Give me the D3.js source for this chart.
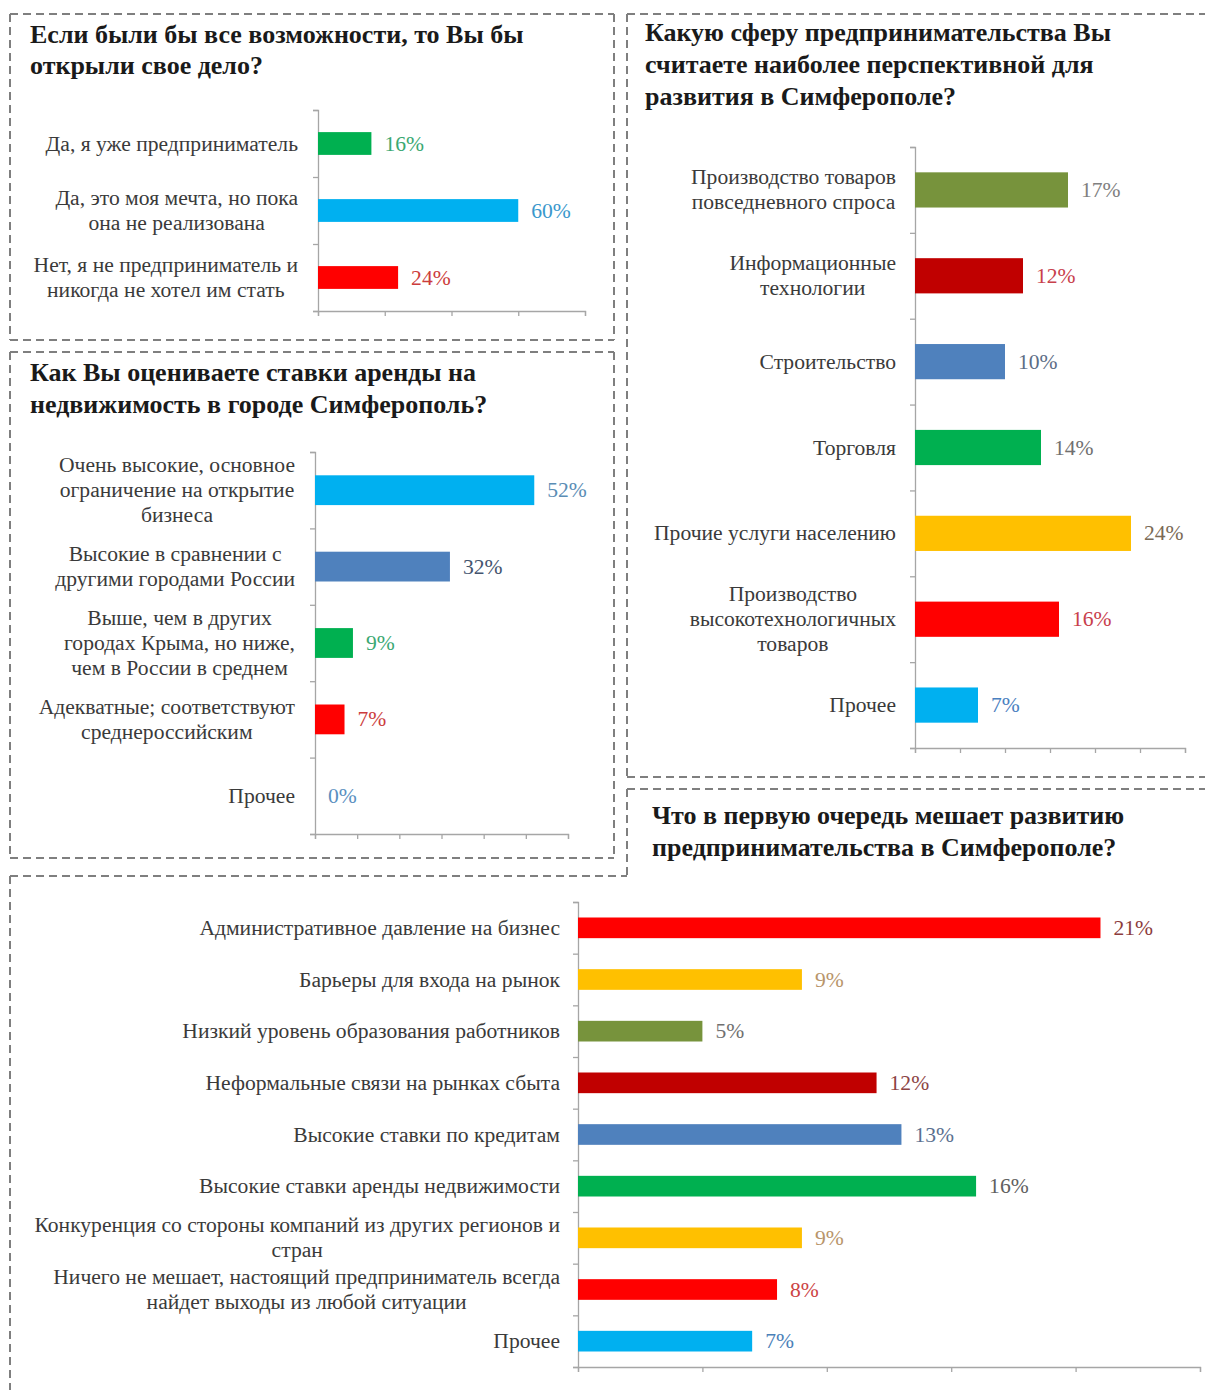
<!DOCTYPE html>
<html><head><meta charset="utf-8">
<script src="https://cdn.jsdelivr.net/npm/d3@7/dist/d3.min.js"></script>
<style>body{margin:0;background:#fff} svg{display:block}</style>
</head><body>
<svg id="c" width="1205" height="1390"></svg>
<script>
// ---------- DATA ----------
const q1Title = ["Если были бы все возможности, то Вы бы", "открыли свое дело?"];
const q1Categories = ["Да, я уже предприниматель", "Да, это моя мечта, но пока\nона не реализована", "Нет, я не предприниматель и\nникогда не хотел им стать"];
const q1Values = [16, 60, 24];
const q1Ticks = [0, 20, 40, 60, 80];

const q2Title = ["Как Вы оцениваете ставки аренды на", "недвижимость в городе Симферополь?"];
const q2Categories = ["Очень высокие, основное\nограничение на открытие\nбизнеса", "Высокие в сравнении с\nдругими городами России", "Выше, чем в других\nгородах Крыма, но ниже,\nчем в России в среднем", "Адекватные; соответствуют\nсреднероссийским", "Прочее"];
const q2Values = [52, 32, 9, 7, 0];
const q2Ticks = [0, 10, 20, 30, 40, 50, 60];

const q3Title = ["Какую сферу предпринимательства Вы", "считаете наиболее перспективной для", "развития в Симферополе?"];
const q3Categories = ["Производство товаров\nповседневного спроса", "Информационные\nтехнологии", "Строительство", "Торговля", "Прочие услуги населению", "Производство\nвысокотехнологичных\nтоваров", "Прочее"];
const q3Values = [17, 12, 10, 14, 24, 16, 7];
const q3Ticks = [0, 5, 10, 15, 20, 25, 30];

const q4Title = ["Что в первую очередь мешает развитию", "предпринимательства в Симферополе?"];
const q4Categories = ["Административное давление на бизнес", "Барьеры для входа на рынок", "Низкий уровень образования работников", "Неформальные связи на рынках сбыта", "Высокие ставки по кредитам", "Высокие ставки аренды недвижимости", "Конкуренция со стороны компаний из других регионов и\nстран", "Ничего не мешает, настоящий предприниматель всегда\nнайдет выходы из любой ситуации", "Прочее"];
const q4Values = [21, 9, 5, 12, 13, 16, 9, 8, 7];
const q4Ticks = [0, 5, 10, 15, 20, 25];

// ---------- STYLES ----------
const q1BarColors = ["#00B050", "#00B0F0", "#FF0000"];
const q1LabelColors = ["#3aa872", "#3a98cc", "#cc3c3c"];
const q2BarColors = ["#00B0F0", "#4F81BD", "#00B050", "#FF0000", "#00B0F0"];
const q2LabelColors = ["#5a8db5", "#44546e", "#3aa872", "#cc3c3c", "#5a8fbf"];
const q3BarColors = ["#77933C", "#C00000", "#4F81BD", "#00B050", "#FFC000", "#FF0000", "#00B0F0"];
const q3LabelColors = ["#808080", "#c8404c", "#5c6d86", "#707070", "#7a6a55", "#c8404c", "#4a80c0"];
const q4BarColors = ["#FF0000", "#FFC000", "#77933C", "#C00000", "#4F81BD", "#00B050", "#FFC000", "#FF0000", "#00B0F0"];
const q4LabelColors = ["#8c3c3c", "#b8956a", "#707070", "#8c4444", "#5a7090", "#606060", "#b8956a", "#cc4444", "#4a80b8"];

const FONT = "'Liberation Serif','Times New Roman',serif";
const LABEL_FS = 21.6;
const TITLE_FS = 26;
const svg = d3.select("#c");
svg.append("rect").attr("width", 1205).attr("height", 1390).attr("fill", "#fff");

// ---------- BORDERS ----------
const borderSegs = [
  [10, 14, 614, 14], [10, 14, 10, 340], [614, 14, 614, 340], [10, 340, 614, 340],
  [10, 352, 614, 352], [10, 352, 10, 858], [614, 352, 614, 858], [10, 858, 614, 858],
  [627, 14, 1205, 14], [627, 14, 627, 777], [627, 777, 1205, 777],
  [627, 789, 1205, 789], [627, 789, 627, 876], [10, 876, 627, 876], [10, 876, 10, 1390]
];
svg.append("g").selectAll("line").data(borderSegs).join("line")
  .attr("x1", d => d[0]).attr("y1", d => d[1]).attr("x2", d => d[2]).attr("y2", d => d[3])
  .attr("stroke", "#7f7f7f").attr("stroke-width", 2).attr("stroke-dasharray", "8,5");

// ---------- TITLES ----------
function title(lines, x, y0, lh) {
  svg.append("g").selectAll("text").data(lines).join("text")
    .attr("x", x).attr("y", (d, i) => y0 + i * lh)
    .attr("font-family", FONT).attr("font-weight", "bold").attr("font-size", TITLE_FS)
    .attr("fill", "#1a1a1a").text(d => d);
}
title(q1Title, 30, 43, 31);
title(q2Title, 30, 381, 32);
title(q3Title, 645, 41, 32);
title(q4Title, 652, 824, 32);

// ---------- PANELS ----------
function panel(o) {
  const g = svg.append("g");
  const n = o.cats.length;
  const x = d3.scaleLinear().domain([0, o.maxV]).range([o.x0, o.x1]);
  const p = 1 - o.barFrac;
  const y = d3.scaleBand().domain(d3.range(n)).range([o.y0, o.y1]).paddingInner(p).paddingOuter(p / 2);
  const yb = d3.scaleLinear().domain([0, n]).range([o.y0, o.y1]);

  const ax = g.append("g").attr("transform", `translate(0,${o.y1})`)
    .call(d3.axisBottom(x).tickValues(o.ticks).tickSize(5).tickSizeOuter(5).tickFormat(""));
  const ay = g.append("g").attr("transform", `translate(${o.x0},0)`)
    .call(d3.axisLeft(yb).tickValues(d3.range(n + 1)).tickSize(5).tickSizeOuter(5).tickFormat(""));
  [ax, ay].forEach(a => { a.selectAll("path,line").attr("stroke", "#a6a6a6").attr("stroke-width", 1.3); });

  g.append("g").selectAll("rect").data(o.vals).join("rect")
    .attr("x", x(0)).attr("y", (d, i) => y(i))
    .attr("width", d => x(d) - x(0)).attr("height", y.bandwidth())
    .attr("fill", (d, i) => o.barColors[i]);

  g.append("g").selectAll("text").data(o.vals).join("text")
    .attr("x", d => x(d) + 13).attr("y", (d, i) => y(i) + y.bandwidth() / 2)
    .attr("dominant-baseline", "central")
    .attr("font-family", FONT).attr("font-size", LABEL_FS).attr("fill", (d, i) => o.labelColors[i])
    .text(d => d + "%");

  o.cats.forEach((c, i) => {
    const lines = c.split("\n");
    const cy = y(i) + y.bandwidth() / 2;
    const tg = g.append("g");
    const ts = tg.selectAll("text").data(lines).join("text")
      .attr("font-family", FONT).attr("font-size", LABEL_FS).attr("fill", "#3a3a3a")
      .attr("dominant-baseline", "central").attr("text-anchor", "middle")
      .attr("y", (d, j) => cy + (j - (lines.length - 1) / 2) * o.lh)
      .text(d => d);
    let w = 0;
    ts.each(function () { w = Math.max(w, this.getComputedTextLength()); });
    ts.attr("x", o.labelRight - w / 2);
  });
}

panel({cats: q1Categories, vals: q1Values, ticks: q1Ticks, barColors: q1BarColors, labelColors: q1LabelColors,
  x0: 318, x1: 585, maxV: 80, y0: 110, y1: 311, barFrac: 0.34, labelRight: 298, lh: 25});
panel({cats: q2Categories, vals: q2Values, ticks: q2Ticks, barColors: q2BarColors, labelColors: q2LabelColors,
  x0: 315, x1: 568, maxV: 60, y0: 452, y1: 834, barFrac: 0.39, labelRight: 295, lh: 25});
panel({cats: q3Categories, vals: q3Values, ticks: q3Ticks, barColors: q3BarColors, labelColors: q3LabelColors,
  x0: 915, x1: 1185, maxV: 30, y0: 147, y1: 748, barFrac: 0.41, labelRight: 896, lh: 25});
panel({cats: q4Categories, vals: q4Values, ticks: q4Ticks, barColors: q4BarColors, labelColors: q4LabelColors,
  x0: 578, x1: 1200, maxV: 25, y0: 902, y1: 1367, barFrac: 0.40, labelRight: 560, lh: 25});
</script>
</body></html>
